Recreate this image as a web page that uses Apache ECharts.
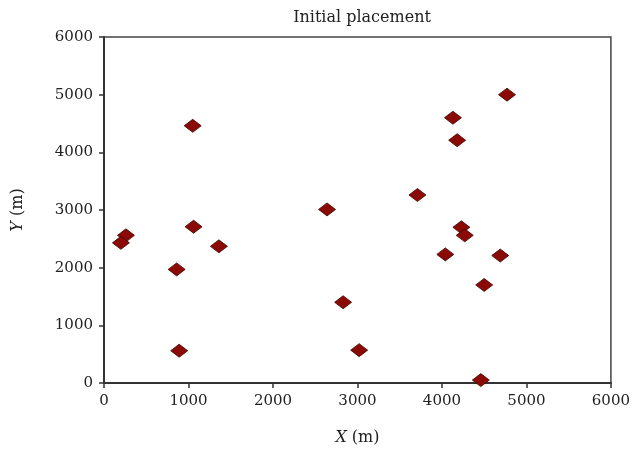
<!DOCTYPE html>
<html>
<head>
<meta charset="utf-8">
<script src="https://cdn.jsdelivr.net/npm/echarts@6/dist/echarts.min.js"></script>
<style>
  html, body { margin: 0; padding: 0; background: #fff; }
  #chart { width: 633px; height: 451px; }
</style>
</head>
<body>
<div id="chart"></div>
<script>
// node positions (m)
var xPos = [1050, 4770, 4130, 4180, 3710, 2640, 1060, 1360, 260, 200, 860, 890, 2830, 3020, 4460, 4040, 4230, 4270, 4690, 4500];
var yPos = [4460, 5000, 4600, 4210, 3260, 3010, 2710, 2370, 2560, 2430, 1970, 560, 1400, 570, 50, 2230, 2700, 2560, 2210, 1700];
var axisTicks = [0, 1000, 2000, 3000, 4000, 5000, 6000];

var points = xPos.map(function (x, i) { return [x, yPos[i]]; });

var font = '"DejaVu Serif", "Liberation Serif", serif';
var myChart = echarts.init(document.getElementById('chart'));

function axis(name, gap, extra) {
  var a = {
    type: 'value',
    min: axisTicks[0],
    max: axisTicks[axisTicks.length - 1],
    interval: 1000,
    splitLine: { show: false },
    axisLine: { show: true, onZero: false, lineStyle: { color: '#333', width: 2 } },
    axisTick: { show: true, length: 5, lineStyle: { color: '#333', width: 1.5 } },
    axisLabel: {
      color: '#222', fontFamily: font, fontSize: 15, margin: 11,
      formatter: function (v) { return String(v); }
    },
    name: name,
    nameLocation: 'middle',
    nameGap: gap,
    nameTextStyle: {
      color: '#222', fontFamily: font, fontSize: 16,
      rich: { i: { fontStyle: 'italic', fontFamily: font, fontSize: 16, color: '#222' } }
    }
  };
  return Object.assign(a, extra || {});
}

myChart.setOption({
  animation: false,
  title: {
    text: 'Initial placement',
    left: 357,
    textAlign: 'center',
    top: 5,
    textStyle: { color: '#222', fontFamily: font, fontSize: 16, fontWeight: 'normal' }
  },
  grid: {
    left: 104, right: 21, top: 37, bottom: 62,
    show: true, borderColor: '#444', borderWidth: 1.5, backgroundColor: '#fff'
  },
  xAxis: axis('{i|X} (m)', 47),
  yAxis: axis('{i|Y} (m)', 78, { nameRotate: 90 }),
  series: [{
    type: 'scatter',
    data: points,
    symbol: 'diamond',
    symbolSize: [17, 13],
    itemStyle: { color: '#8b0a05', borderColor: '#3d0804', borderWidth: 0.8, opacity: 1 }
  }]
});
</script>
</body>
</html>
